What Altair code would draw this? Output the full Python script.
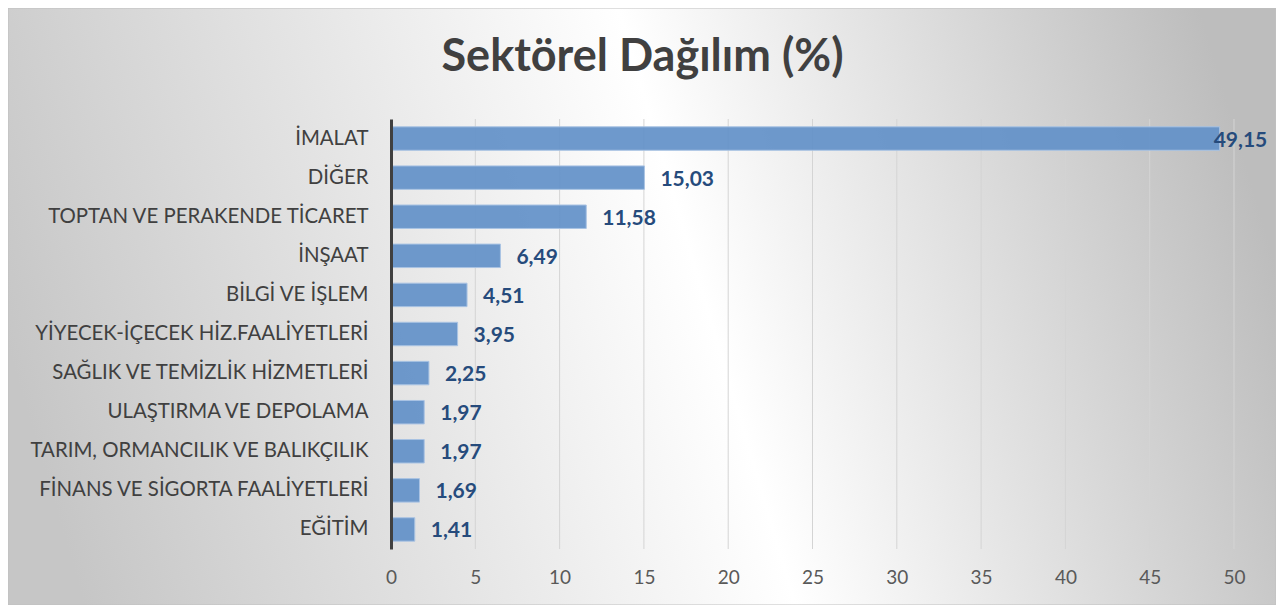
import altair as alt
import pandas as pd

sectors = [
    "İMALAT",
    "DİĞER",
    "TOPTAN VE PERAKENDE TİCARET",
    "İNŞAAT",
    "BİLGİ VE İŞLEM",
    "YİYECEK-İÇECEK HİZ.FAALİYETLERİ",
    "SAĞLIK VE TEMİZLİK HİZMETLERİ",
    "ULAŞTIRMA VE DEPOLAMA",
    "TARIM, ORMANCILIK VE BALIKÇILIK",
    "FİNANS VE SİGORTA FAALİYETLERİ",
    "EĞİTİM",
]
values = [49.15, 15.03, 11.58, 6.49, 4.51, 3.95, 2.25, 1.97, 1.97, 1.69, 1.41]
tick_values = [0, 5, 10, 15, 20, 25, 30, 35, 40, 45, 50]

df = pd.DataFrame({"sector": sectors, "value": values})
grid_df = pd.DataFrame({"value": tick_values[1:]})

FONT = "Lato"
W, H = 843, 430
PAD = {"left": 383, "top": 111, "right": 42, "bottom": 56}

xscale = alt.Scale(domain=[0, 50], nice=False)

gradient = {
    "gradient": "linear",
    "x1": 0, "y1": 0.57, "x2": 1, "y2": 0.43,
    "stops": [
        {"offset": 0.0, "color": "#c6c6c6"},
        {"offset": 0.55, "color": "#ffffff"},
        {"offset": 1.0, "color": "#bdbdbd"},
    ],
}

bg = alt.Chart(pd.DataFrame({"k": [0]})).mark_rect(
    fill=gradient, stroke="#c0c0c0", strokeWidth=1
).encode(
    x=alt.value(-PAD["left"]),
    x2=alt.value(W + PAD["right"]),
    y=alt.value(-PAD["top"]),
    y2=alt.value(H + PAD["bottom"]),
)

grid = alt.Chart(grid_df).mark_rule(color="#d4d4d4", strokeWidth=1).encode(
    x=alt.X("value:Q", scale=xscale, title=None)
)

bars = alt.Chart(df).mark_bar(
    fill="#6391c8", fillOpacity=0.93, stroke="#a9c3e3", strokeWidth=1
).encode(
    y=alt.Y(
        "sector:N",
        sort=sectors,
        title=None,
        scale=alt.Scale(paddingInner=0.4, paddingOuter=0.2),
        axis=alt.Axis(
            domainColor="#404040", domainWidth=3, ticks=False, grid=False,
            labelFont=FONT, labelFontSize=20.4, labelColor="#404040",
            labelPadding=23, labelLimit=400, zindex=1,
        ),
    ),
    x=alt.X(
        "value:Q",
        scale=xscale,
        title=None,
        axis=alt.Axis(
            values=tick_values, domain=False, ticks=False, grid=False,
            labelFont=FONT, labelFontSize=19, labelColor="#595959",
            labelPadding=19, labelFlush=False, zindex=1,
        ),
    ),
)

label_base = alt.Chart(df).transform_calculate(
    label="replace(format(datum.value, '.2f'), '.', ',')"
)

label_style = dict(
    baseline="middle", dy=2, font=FONT, fontSize=21, fontWeight="bold",
    color="#264b7c",
)

labels_out = label_base.transform_filter("datum.value < 40").mark_text(
    align="left", dx=16, **label_style
).encode(
    y=alt.Y("sector:N", sort=sectors),
    x=alt.X("value:Q", scale=xscale),
    text="label:N",
)

labels_in = label_base.transform_filter("datum.value >= 40").mark_text(
    align="left", dx=-6, **label_style
).encode(
    y=alt.Y("sector:N", sort=sectors),
    x=alt.X("value:Q", scale=xscale),
    text="label:N",
)

chart = alt.layer(bg, grid, bars, labels_out, labels_in).properties(
    width=W,
    height=H,
    padding=PAD,
    autosize=alt.AutoSizeParams(type="none"),
    title=alt.Title(
        "Sektörel Dağılım (%)",
        font=FONT, fontSize=45, fontWeight="bold", color="#404040",
        anchor="middle", dx=-170, offset=-108, baseline="alphabetic", zindex=1,
    ),
).configure_view(stroke=None).configure(background="white")

chart.save("out.html", embed_options={"renderer": "svg", "actions": False})
